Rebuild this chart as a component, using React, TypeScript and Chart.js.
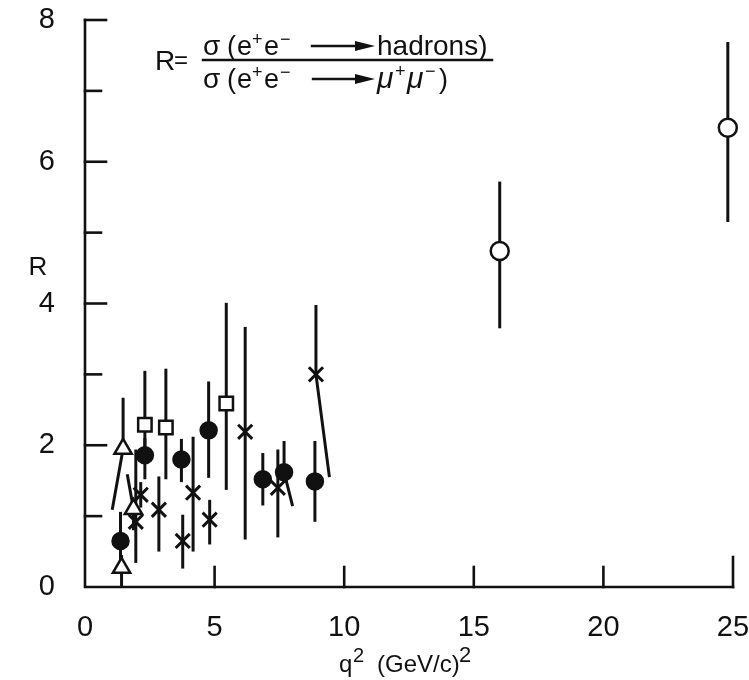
import React, { useEffect, useRef } from 'react';
import { Chart, registerables } from 'chart.js';

Chart.register(...registerables);

// ---------- data ----------
const xTickValues = [0, 5, 10, 15, 20, 25];
const yLabelValues = [0, 2, 4, 6, 8];

const openCircleX = [16.0, 24.8];
const openCircleY = [4.74, 6.48];
const openCircleLow = [3.65, 5.15];
const openCircleHigh = [5.72, 7.69];

const filledCircleX = [1.37, 2.31, 3.72, 4.77, 6.86, 7.68, 8.87];
const filledCircleY = [0.65, 1.86, 1.8, 2.21, 1.52, 1.62, 1.49];
const filledCircleLow = [0.3, 1.52, 1.48, 1.54, 1.15, 1.14, 0.92];
const filledCircleHigh = [1.06, 2.1, 2.09, 2.9, 1.89, 2.06, 2.06];
const filledCircleLowEndX = [1.37, 2.31, 3.72, 4.77, 6.86, 8.01, 8.87];

const squareX = [2.31, 3.12, 5.45];
const squareY = [2.29, 2.25, 2.59];
const squareLow = [1.95, 1.52, 1.37];
const squareHigh = [3.05, 3.08, 4.01];

const crossX = [1.96, 2.15, 2.85, 3.77, 4.17, 4.81, 6.18, 7.44, 8.91];
const crossY = [0.92, 1.3, 1.09, 0.65, 1.33, 0.95, 2.19, 1.4, 3.0];
const crossLow = [0.34, 1.12, 0.5, 0.26, 0.5, 0.6, 0.67, 0.7, 1.55];
const crossHigh = [1.94, 1.48, 1.56, 1.02, 2.12, 1.23, 3.67, 1.94, 3.98];
const crossLowEndX = [1.96, 2.15, 2.85, 3.77, 4.17, 4.81, 6.18, 7.44, 9.43];

const triangleX = [1.41, 1.47, 1.87];
const triangleY = [0.27, 1.95, 1.1];
const triangleLow = [0.0, 1.09, 0.8];
const triangleHigh = [0.45, 2.67, 1.59];
const triangleLowEndX = [1.41, 1.05, 1.87];
const triangleHighEndX = [1.41, 1.47, 1.63];

const INK = '#111111';
const FONT = "'Liberation Sans', Arial, sans-serif";

type Pt = { x: number; y: number; low: number; high: number; lowX?: number; highX?: number };

function build(xs: number[], ys: number[], lo: number[], hi: number[], lowX?: number[], highX?: number[]): Pt[] {
  return xs.map((x, i) => ({
    x,
    y: ys[i],
    low: lo[i],
    high: hi[i],
    lowX: lowX ? lowX[i] : x,
    highX: highX ? highX[i] : x,
  }));
}

const errorBarPlugin = {
  id: 'errorBars',
  beforeDatasetsDraw(chart: any) {
    const { ctx } = chart;
    const xs = chart.scales.x;
    const ys = chart.scales.y;
    ctx.save();
    ctx.strokeStyle = INK;
    ctx.lineWidth = 3;
    ctx.lineJoin = 'round';
    chart.data.datasets.forEach((ds: any) => {
      ds.data.forEach((p: Pt) => {
        const px = xs.getPixelForValue(p.x);
        const py = ys.getPixelForValue(p.y);
        ctx.beginPath();
        ctx.moveTo(xs.getPixelForValue(p.highX ?? p.x), ys.getPixelForValue(p.high));
        ctx.lineTo(px, py);
        ctx.lineTo(xs.getPixelForValue(p.lowX ?? p.x), ys.getPixelForValue(p.low));
        ctx.stroke();
      });
    });
    ctx.restore();
  },
};

function drawArrow(ctx: CanvasRenderingContext2D, x0: number, x1: number, y: number) {
  ctx.beginPath();
  ctx.moveTo(x0, y);
  ctx.lineTo(x1 - 12, y);
  ctx.lineWidth = 2.4;
  ctx.stroke();
  ctx.beginPath();
  ctx.moveTo(x1, y);
  ctx.lineTo(x1 - 20, y - 5);
  ctx.lineTo(x1 - 20, y + 5);
  ctx.closePath();
  ctx.fill();
}

type Seg = { t: string; x: number; size: number; rise?: number; italic?: boolean };

function drawPlaced(ctx: CanvasRenderingContext2D, L: number, baseline: number, segs: Seg[]) {
  segs.forEach((s) => {
    ctx.font = `${s.italic ? 'italic ' : ''}${s.size}px ${FONT}`;
    ctx.fillText(s.t, L + s.x, baseline - (s.rise || 0));
  });
}

const axesPlugin = {
  id: 'handAxes',
  afterDraw(chart: any) {
    const { ctx } = chart;
    const xs = chart.scales.x;
    const ys = chart.scales.y;
    const x0 = xs.getPixelForValue(0);
    const xEnd = xs.getPixelForValue(25);
    const y0 = ys.getPixelForValue(0);
    const yTop = ys.getPixelForValue(8);
    ctx.save();
    ctx.strokeStyle = INK;
    ctx.fillStyle = INK;
    ctx.lineWidth = 2.6;
    ctx.lineCap = 'square';
    // axis lines
    ctx.beginPath();
    ctx.moveTo(x0, yTop);
    ctx.lineTo(x0, y0);
    ctx.lineTo(xEnd, y0);
    ctx.stroke();
    // y ticks (inward)
    for (let v = 1; v <= 8; v++) {
      const py = ys.getPixelForValue(v);
      const len = v % 2 === 0 ? 21 : 16;
      ctx.beginPath();
      ctx.moveTo(x0, py);
      ctx.lineTo(x0 + len, py);
      ctx.stroke();
    }
    // x ticks (inward)
    xTickValues.slice(1).forEach((v) => {
      const px = xs.getPixelForValue(v);
      const len = v === 25 ? 30 : 20;
      ctx.beginPath();
      ctx.moveTo(px, y0);
      ctx.lineTo(px, y0 - len);
      ctx.stroke();
    });

    // y label "R"
    ctx.textBaseline = 'middle';
    ctx.textAlign = 'center';
    ctx.font = `26px ${FONT}`;
    ctx.fillText('R', x0 - 47, ys.getPixelForValue(4.5));

    // x title q^2 (GeV/c)^2
    ctx.textBaseline = 'alphabetic';
    ctx.textAlign = 'left';
    const tb = y0 + 85;
    const tx = x0 + 252;
    drawPlaced(ctx, tx, tb, [
      { t: 'q', x: 2, size: 24 },
      { t: '2', x: 16, size: 20, rise: 10 },
      { t: '(GeV/c)', x: 40, size: 24 },
      { t: '2', x: 122, size: 22, rise: 10 },
    ]);

    // formula R = sigma(...)/sigma(...)
    const L = chart.chartArea.left;
    const T = chart.chartArea.top;
    ctx.font = `28px ${FONT}`;
    ctx.fillText('R', L + 70, T + 50);
    ctx.font = `24px ${FONT}`;
    ctx.fillText('=', L + 89, T + 48);
    const num = T + 35;
    drawPlaced(ctx, L, num, [
      { t: 'σ', x: 118, size: 28 },
      { t: '(', x: 142, size: 27 },
      { t: 'e', x: 152, size: 27 },
      { t: '+', x: 167, size: 18, rise: 10 },
      { t: 'e', x: 179, size: 27 },
      { t: '−', x: 195, size: 18, rise: 10 },
      { t: 'hadrons)', x: 292, size: 28 },
    ]);
    drawArrow(ctx, L + 227, L + 290, num - 9);
    // fraction bar
    ctx.lineWidth = 2.5;
    ctx.beginPath();
    ctx.moveTo(L + 118, T + 40);
    ctx.lineTo(L + 407, T + 40);
    ctx.stroke();
    const den = T + 68;
    drawPlaced(ctx, L, den, [
      { t: 'σ', x: 118, size: 28 },
      { t: '(', x: 142, size: 27 },
      { t: 'e', x: 152, size: 27 },
      { t: '+', x: 167, size: 18, rise: 10 },
      { t: 'e', x: 179, size: 27 },
      { t: '−', x: 195, size: 18, rise: 10 },
      { t: 'μ', x: 292, size: 30, italic: true },
      { t: '+', x: 310, size: 18, rise: 11 },
      { t: 'μ', x: 322, size: 30, italic: true },
      { t: '−', x: 340, size: 18, rise: 11 },
      { t: ')', x: 354, size: 27 },
    ]);
    drawArrow(ctx, L + 228, L + 290, den - 9);
    ctx.restore();
  },
};

export default function App() {
  const canvasRef = useRef<HTMLCanvasElement | null>(null);

  useEffect(() => {
    if (!canvasRef.current) return;
    const common = {
      borderColor: INK,
      borderWidth: 2.5,
      showLine: false,
      clip: false,
    };
    const chart = new Chart(canvasRef.current, {
      type: 'scatter',
      data: {
        datasets: [
          {
            ...common,
            label: 'open circles',
            data: build(openCircleX, openCircleY, openCircleLow, openCircleHigh),
            pointStyle: 'circle',
            pointRadius: 9,
            backgroundColor: '#ffffff',
          },
          {
            ...common,
            label: 'filled circles',
            data: build(filledCircleX, filledCircleY, filledCircleLow, filledCircleHigh, filledCircleLowEndX),
            pointStyle: 'circle',
            pointRadius: 8,
            backgroundColor: INK,
          },
          {
            ...common,
            label: 'squares',
            data: build(squareX, squareY, squareLow, squareHigh),
            pointStyle: 'rect',
            pointRadius: 9.5,
            backgroundColor: '#ffffff',
          },
          {
            ...common,
            label: 'crosses',
            data: build(crossX, crossY, crossLow, crossHigh, crossLowEndX),
            pointStyle: 'crossRot',
            pointRadius: 10,
            borderWidth: 3,
            backgroundColor: INK,
          },
          {
            ...common,
            label: 'triangles',
            data: build(triangleX, triangleY, triangleLow, triangleHigh, triangleLowEndX, triangleHighEndX),
            pointStyle: 'triangle',
            pointRadius: 10,
            backgroundColor: '#ffffff',
          },
        ],
      },
      options: {
        animation: false,
        responsive: false,
        devicePixelRatio: 1,
        layout: { autoPadding: false, padding: { left: 0, right: 16, top: 20, bottom: 0 } },
        plugins: {
          legend: { display: false },
          tooltip: { enabled: false },
        },
        scales: {
          x: {
            type: 'linear',
            min: 0,
            max: 25,
            grid: { display: false },
            border: { display: false },
            afterBuildTicks: (scale: any) => {
              scale.ticks = xTickValues.map((v) => ({ value: v }));
            },
            ticks: {
              color: INK,
              padding: 16,
              font: { family: FONT, size: 29 },
              maxRotation: 0,
              autoSkip: false,
            },
            afterFit: (scale: any) => {
              scale.height = 93;
              scale.paddingLeft = 0;
              scale.paddingRight = 0;
              scale.paddingTop = 0;
              scale.paddingBottom = 0;
            },
          },
          y: {
            type: 'linear',
            min: 0,
            max: 8,
            grid: { display: false },
            border: { display: false },
            afterBuildTicks: (scale: any) => {
              scale.ticks = yLabelValues.map((v) => ({ value: v }));
            },
            ticks: {
              color: INK,
              padding: 22,
              font: { family: FONT, size: 29 },
              autoSkip: false,
            },
            afterFit: (scale: any) => {
              scale.width = 85;
              scale.paddingLeft = 0;
              scale.paddingRight = 0;
              scale.paddingTop = 0;
              scale.paddingBottom = 0;
            },
          },
        },
      },
      plugins: [errorBarPlugin, axesPlugin],
    } as any);
    return () => chart.destroy();
  }, []);

  return (
    <div style={{ position: 'fixed', left: 0, top: 0, width: 749, height: 680, background: '#ffffff' }}>
      <canvas ref={canvasRef} width={749} height={680} style={{ display: 'block', width: 749, height: 680 }} />
    </div>
  );
}
